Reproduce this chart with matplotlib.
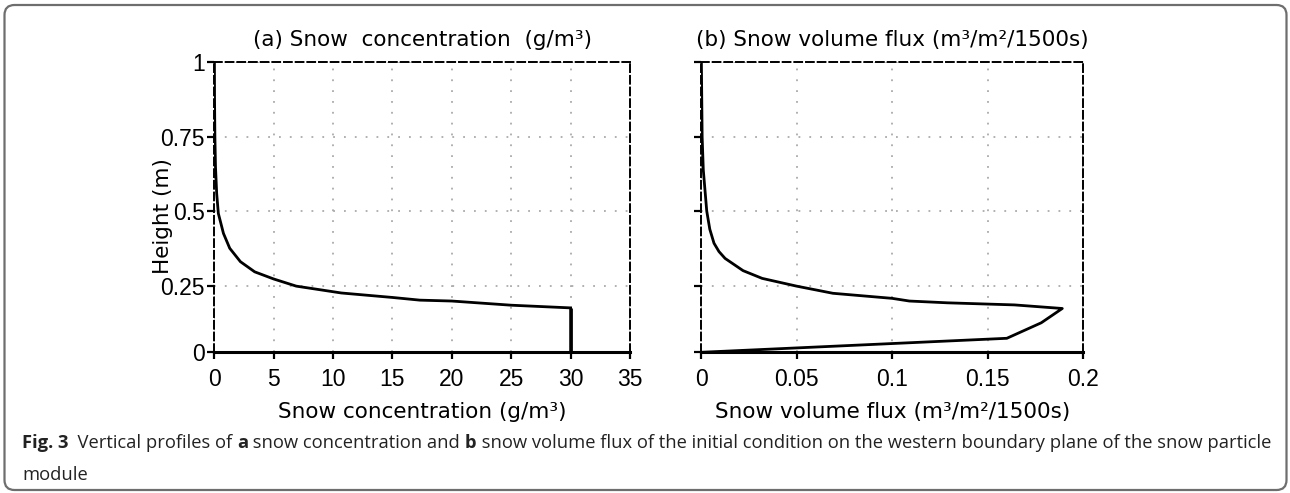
import numpy as np
import matplotlib
matplotlib.use('Agg')
import matplotlib.pyplot as plt
from matplotlib.patches import FancyBboxPatch

# profile (a): snow concentration (g/m3) against height
conc_height = [0.027, 0.176, 0.185, 0.199, 0.202, 0.211, 0.226, 0.249, 0.273, 0.297,
               0.331, 0.376, 0.426, 0.493, 0.56, 0.65, 0.75, 0.88, 1.0]
conc = [30.0, 30.0, 25.0, 20.0, 17.3, 15.0, 10.7, 6.9, 5.0, 3.4,
        2.2, 1.3, 0.77, 0.34, 0.2, 0.1, 0.05, 0.02, 0.01]

# profile (b): snow volume flux (m3/m2/1500s) against height
flux_height = [0.027, 0.074, 0.126, 0.174, 0.186, 0.193, 0.199, 0.208, 0.225, 0.249,
               0.275, 0.301, 0.342, 0.365, 0.393, 0.44, 0.501, 0.639, 0.75, 1.0]
flux = [0.0, 0.160, 0.178, 0.189, 0.164, 0.129, 0.109, 0.100, 0.069, 0.050,
        0.032, 0.022, 0.0126, 0.0094, 0.0068, 0.0046, 0.003, 0.0012, 0.0006, 0.0002]

ybottom = 0.027
yticks = [ybottom, 0.25, 0.5, 0.75, 1.0]
ytick_labels = ['0', '0.25', '0.5', '0.75', '1']
conc_ticks = [0, 5, 10, 15, 20, 25, 30, 35]
conc_tick_labels = ['0', '5', '10', '15', '20', '25', '30', '35']
flux_ticks = [0, 0.05, 0.1, 0.15, 0.2]
flux_tick_labels = ['0', '0.05', '0.1', '0.15', '0.2']

W, H = 1290, 493
fig = plt.figure(figsize=(W / 100, H / 100), dpi=100)

tick_font = dict(family='Liberation Sans', size=16.5)
label_font = dict(family='DejaVu Sans', size=15.5)

# rounded frame around the figure and caption, drawn in pixel units
bg = fig.add_axes([0, 0, 1, 1])
bg.set_xlim(0, W)
bg.set_ylim(H, 0)
bg.axis('off')
bg.add_patch(FancyBboxPatch((4.5, 5), 1282, 485,
                            boxstyle='round,pad=0,rounding_size=10',
                            fill=False, edgecolor='#6e6e6e', lw=1.6))


def style_axes(ax, xticks, xlabels, xlim, show_ylabels):
    ax.set_xlim(xlim)
    ax.set_ylim(ybottom, 1.0)
    ax.set_xticks(xticks)
    ax.set_xticklabels(xlabels, **tick_font)
    ax.set_yticks(yticks)
    if show_ylabels:
        ax.set_yticklabels(ytick_labels, **tick_font)
    else:
        ax.set_yticklabels([])
    for side in ['left', 'top', 'right']:
        ax.spines[side].set_linestyle((0, (4, 2)))
        ax.spines[side].set_linewidth(1.4)
    ax.spines['bottom'].set_linewidth(2.2)
    ax.tick_params(axis='both', direction='out', length=5, width=1.6, pad=2)
    ax.tick_params(axis='x', pad=6)
    ax.grid(True, color='#aaaaaa', linestyle=(0, (1, 5)), linewidth=1.3)
    ax.set_axisbelow(True)


ax1 = fig.add_axes([214.3 / W, 1 - 352.3 / H, 415.7 / W, 290 / H])
ax1.plot(conc, conc_height, color='k', lw=2.0, solid_joinstyle='miter')
ax1.vlines(conc[0], ybottom, conc_height[1], color='k', lw=2.0)
style_axes(ax1, conc_ticks, conc_tick_labels, (0, 35), True)
ax1.set_title('(a) Snow  concentration  (g/m³)', pad=12, **label_font)
ax1.set_xlabel('Snow concentration (g/m³)', labelpad=8, **label_font)
ax1.set_ylabel('Height (m)', **label_font)
ax1.yaxis.set_label_coords(-0.10, 0.47)

ax2 = fig.add_axes([701 / W, 1 - 352.3 / H, 382.3 / W, 290 / H])
ax2.plot(flux, flux_height, color='k', lw=2.0)
style_axes(ax2, flux_ticks, flux_tick_labels, (0, 0.2), False)
ax2.set_title('(b) Snow volume flux (m³/m²/1500s)', pad=12, **label_font)
ax2.set_xlabel('Snow volume flux (m³/m²/1500s)', labelpad=8, **label_font)

# caption with bold panel letters
fig.canvas.draw()
renderer = fig.canvas.get_renderer()
cap_font = dict(family='Open Sans', size=13.2, color='#222222')
parts = [('Fig. 3', 'bold'), ('  Vertical profiles of ', 'normal'), ('a', 'bold'),
         (' snow concentration and ', 'normal'), ('b', 'bold'),
         (' snow volume flux of the initial condition on the western boundary plane of the snow particle', 'normal')]
x = 22 / W
y = 1 - 448 / H
for txt, weight in parts:
    t = fig.text(x, y, txt, weight=weight, va='baseline', ha='left', **cap_font)
    bb = t.get_window_extent(renderer)
    x = bb.x1 / fig.bbox.width
fig.text(22 / W, 1 - 480 / H, 'module', va='baseline', ha='left', **cap_font)

fig.savefig('out.png', dpi=100)
